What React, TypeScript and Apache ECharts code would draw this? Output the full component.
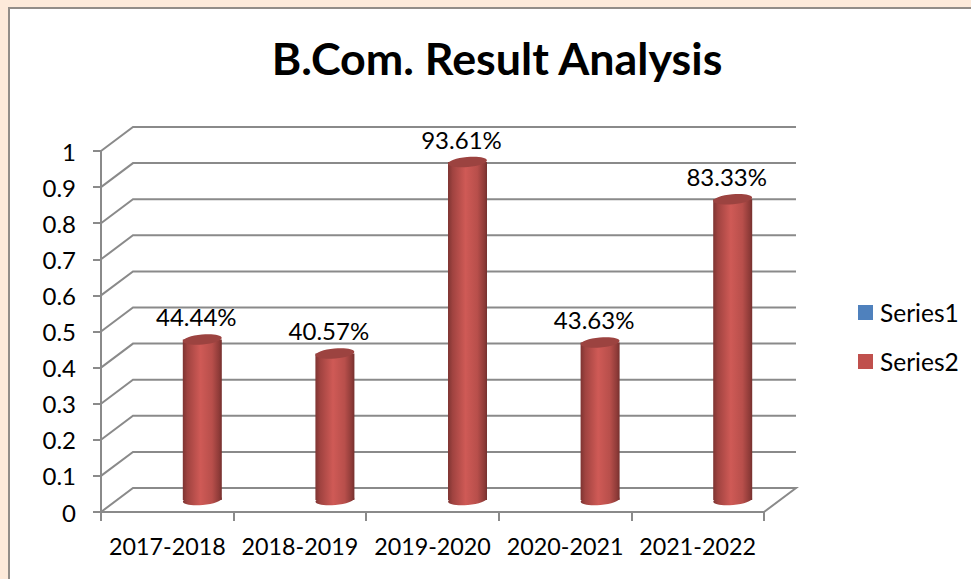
import React, { useEffect, useRef } from "react";
import * as echarts from "echarts";

const categories = ["2017-2018", "2018-2019", "2019-2020", "2020-2021", "2021-2022"];
const series2Values = [0.4444, 0.4057, 0.9361, 0.4363, 0.8333];
const yTicks = [0, 0.1, 0.2, 0.3, 0.4, 0.5, 0.6, 0.7, 0.8, 0.9, 1];

const FONT = "Lato, Carlito, Calibri, 'Noto Sans', sans-serif";
const AXIS = "#8a8a8a";
const DEPTH_X = 32;
const DEPTH_Y = 24;

export default function App() {
  const ref = useRef<HTMLDivElement>(null);
  useEffect(() => {
    document.body.style.margin = "0";
    const chart = echarts.init(ref.current!, undefined, { renderer: "svg" });
    const bodyGrad = new echarts.graphic.LinearGradient(0, 0, 1, 0, [
      { offset: 0, color: "#7e3432" },
      { offset: 0.12, color: "#a04340" },
      { offset: 0.45, color: "#cf5a56" },
      { offset: 0.75, color: "#b84f4b" },
      { offset: 0.93, color: "#8e3b38" },
      { offset: 1, color: "#75302e" },
    ]);
    chart.setOption({
      animation: false,
      backgroundColor: "#FDEADA",
      textStyle: { fontFamily: FONT },
      graphic: [
        {
          type: "rect",
          z: -10,
          shape: { x: 9, y: 8, width: 1000, height: 620 },
          style: { fill: "#ffffff", stroke: "#928d88", lineWidth: 2 },
        },
      ],
      title: {
        text: "B.Com. Result Analysis",
        left: 492,
        top: 30,
        textAlign: "center",
        textStyle: { fontFamily: FONT, fontWeight: "bold", fontSize: 44.8, color: "#000" },
      },
      grid: { left: 101, top: 151, width: 663, height: 361, containLabel: false },
      legend: {
        left: 858,
        top: 300,
        padding: 0,
        orient: "vertical",
        itemWidth: 15,
        itemHeight: 15,
        itemGap: 24,
        data: [
          { name: "Series1", icon: "rect" },
          { name: "Series2", icon: "rect" },
        ],
        textStyle: { fontFamily: FONT, fontSize: 24.5, color: "#000", padding: [0, 0, 0, 2] },
      },
      xAxis: {
        type: "category",
        data: categories,
        boundaryGap: true,
        axisLine: { lineStyle: { color: AXIS, width: 2 } },
        axisTick: { show: true, length: 9, lineStyle: { color: AXIS, width: 2 } },
        axisLabel: { fontFamily: FONT, fontSize: 23.3, color: "#000", margin: 22, interval: 0 },
      },
      yAxis: {
        type: "value",
        min: 0,
        max: 1,
        interval: 0.1,
        splitLine: { show: false },
        axisLine: { show: true, lineStyle: { color: AXIS, width: 2 } },
        axisTick: { show: true, length: 8, lineStyle: { color: AXIS, width: 2 } },
        axisLabel: { fontFamily: FONT, fontSize: 24, color: "#000", margin: 25 },
      },
      series: [
        {
          name: "walls",
          type: "custom",
          z: 1,
          silent: true,
          data: yTicks.map((v) => [0, v]),
          encode: { x: 0, y: 1 },
          renderItem: (params: any, api: any) => {
            const v = api.value(1);
            const y = api.coord([0, v])[1];
            const left = params.coordSys.x;
            const right = left + params.coordSys.width;
            const pts: number[][] = [
              [left, y],
              [left + DEPTH_X, y - DEPTH_Y],
              [right + DEPTH_X, y - DEPTH_Y],
            ];
            if (v === 0) pts.push([right, y]);
            return {
              type: "polyline",
              shape: { points: pts },
              style: { fill: "none", stroke: AXIS, lineWidth: 2 },
            };
          },
        },
        {
          name: "Series1",
          type: "custom",
          z: 2,
          itemStyle: { color: "#4F81BD" },
          data: [],
          renderItem: () => null,
        },
        {
          name: "Series2",
          type: "custom",
          z: 3,
          itemStyle: { color: "#C0504D" },
          data: series2Values.map((v, i) => [i, v]),
          encode: { x: 0, y: 1 },
          renderItem: (_params: any, api: any) => {
            const v = api.value(1);
            const [cxBase, yTopBase] = api.coord([api.value(0), v]);
            const y0Base = api.coord([api.value(0), 0])[1];
            const band = api.size([1, 0])[0];
            const cx = cxBase + band * 0.264;
            const top = yTopBase - 12;
            const bottom = y0Base - 12;
            const halfW = 19.5;
            const rot = 0.09;
            return {
              type: "group",
              children: [
                {
                  type: "ellipse",
                  x: cx,
                  y: bottom,
                  rotation: rot,
                  shape: { cx: 0, cy: 0, rx: halfW, ry: 5 },
                  style: { fill: bodyGrad },
                },
                {
                  type: "rect",
                  shape: { x: cx - halfW, y: top, width: halfW * 2, height: bottom - top },
                  style: { fill: bodyGrad },
                },
                {
                  type: "ellipse",
                  x: cx,
                  y: top,
                  rotation: rot,
                  shape: { cx: 0, cy: 0, rx: halfW, ry: 5 },
                  style: { fill: "#9c4340" },
                },
                {
                  type: "text",
                  style: {
                    text: (v * 100).toFixed(2) + "%",
                    x: cx - 6,
                    y: top - 23,
                    align: "center",
                    verticalAlign: "middle",
                    font: "24px " + FONT,
                    fill: "#000",
                  },
                },
              ],
            };
          },
        },
      ],
    });
    return () => chart.dispose();
  }, []);
  return <div ref={ref} style={{ width: 971, height: 579 }} />;
}
